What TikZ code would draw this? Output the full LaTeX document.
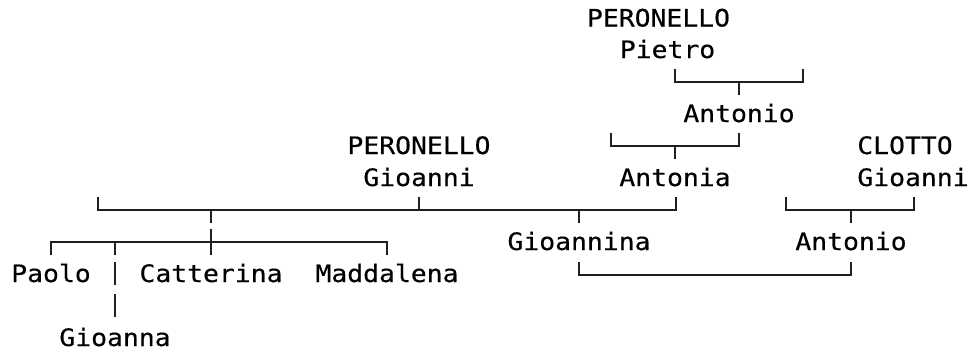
\documentclass[tikz,border=0pt]{standalone}
\usepackage{fontspec}
\newfontfamily\treefont[FakeStretch=1.1,FakeBold=0.4]{DejaVu Sans Mono}
\begin{document}
\begin{tikzpicture}[x=1pt,y=-1pt,
  tx/.style={font=\treefont\fontsize{24}{24}\selectfont, anchor=base, inner sep=0pt, text=black},
  ln/.style={line width=2pt, draw=black!88, line cap=butt}]
\useasboundingbox (0,0) rectangle (971,351);
% names
\node[tx] (pero1) at (658.5,26.5) {PERONELLO};
\node[tx] (pietro) at (667.5,58) {Pietro};
\node[tx] (anton1) at (739,122) {Antonio};
\node[tx] (pero2) at (419,154) {PERONELLO};
\node[tx] (clotto) at (905,154) {CLOTTO};
\node[tx] (gio1) at (419,186) {Gioanni};
\node[tx] (antonia) at (675,186) {Antonia};
\node[tx] (gio2) at (913,186) {Gioanni};
\node[tx] (gioannina) at (579,250) {Gioannina};
\node[tx] (anton2) at (851,250) {Antonio};
\node[tx] (paolo) at (51,282) {Paolo};
\node[tx] (catt) at (211,282) {Catterina};
\node[tx] (madd) at (387,282) {Maddalena};
\node[tx] (gioanna) at (115,346) {Gioanna};
% top bracket (Pietro)
\coordinate (pL) at (675,69); \coordinate (pM) at (739,82);
\coordinate (pR) at (803,69); \coordinate (pD) at (739,95);
\draw[ln] (pL) |- (pM) -| (pR);
\draw[ln] (pM) -- (pD);
% Antonio bracket
\coordinate (aL) at (611,133); \coordinate (aM) at (675,146);
\coordinate (aR) at (739,133); \coordinate (aD) at (675,159);
\draw[ln] (aL) |- (aM) -| (aR);
\draw[ln] (aM) -- (aD);
% big bracket Gioanni -- Antonia
\coordinate (gL) at (98,197); \coordinate (gM) at (211,210);
\coordinate (gC) at (579,210); \coordinate (gR) at (676,197);
\coordinate (gG) at (419,197); \coordinate (gGb) at (419,210);
\coordinate (gMd) at (211,223); \coordinate (gCd) at (579,223);
\draw[ln] (gL) |- (gM) -- (gC) -| (gR);
\draw[ln] (gG) -- (gGb);
\draw[ln] (gM) -- (gMd);
\draw[ln] (gC) -- (gCd);
% CLOTTO bracket
\coordinate (kL) at (786,197); \coordinate (kM) at (851,210);
\coordinate (kR) at (914,197); \coordinate (kD) at (851,223);
\draw[ln] (kL) |- (kM) -| (kR);
\draw[ln] (kM) -- (kD);
% children bracket
\coordinate (c1) at (51,255); \coordinate (cH) at (211,242);
\coordinate (c4) at (387,255);
\coordinate (cT) at (211,229); \coordinate (cB) at (211,255);
\coordinate (c2t) at (115,242); \coordinate (c2b) at (115,255);
\coordinate (c2c) at (115,262); \coordinate (c2d) at (115,285);
\coordinate (c2e) at (115,294); \coordinate (c2f) at (115,317);
\draw[ln] (c1) |- (cH) -| (c4);
\draw[ln] (cT) -- (cB);
\draw[ln] (c2t) -- (c2b);
\draw[ln] (c2c) -- (c2d);
\draw[ln] (c2e) -- (c2f);
% Gioannina -- Antonio
\coordinate (mL) at (579,262); \coordinate (mM) at (715,274.5);
\coordinate (mR) at (851,262);
\draw[ln] (mL) |- (mM) -| (mR);
\end{tikzpicture}
\end{document}
